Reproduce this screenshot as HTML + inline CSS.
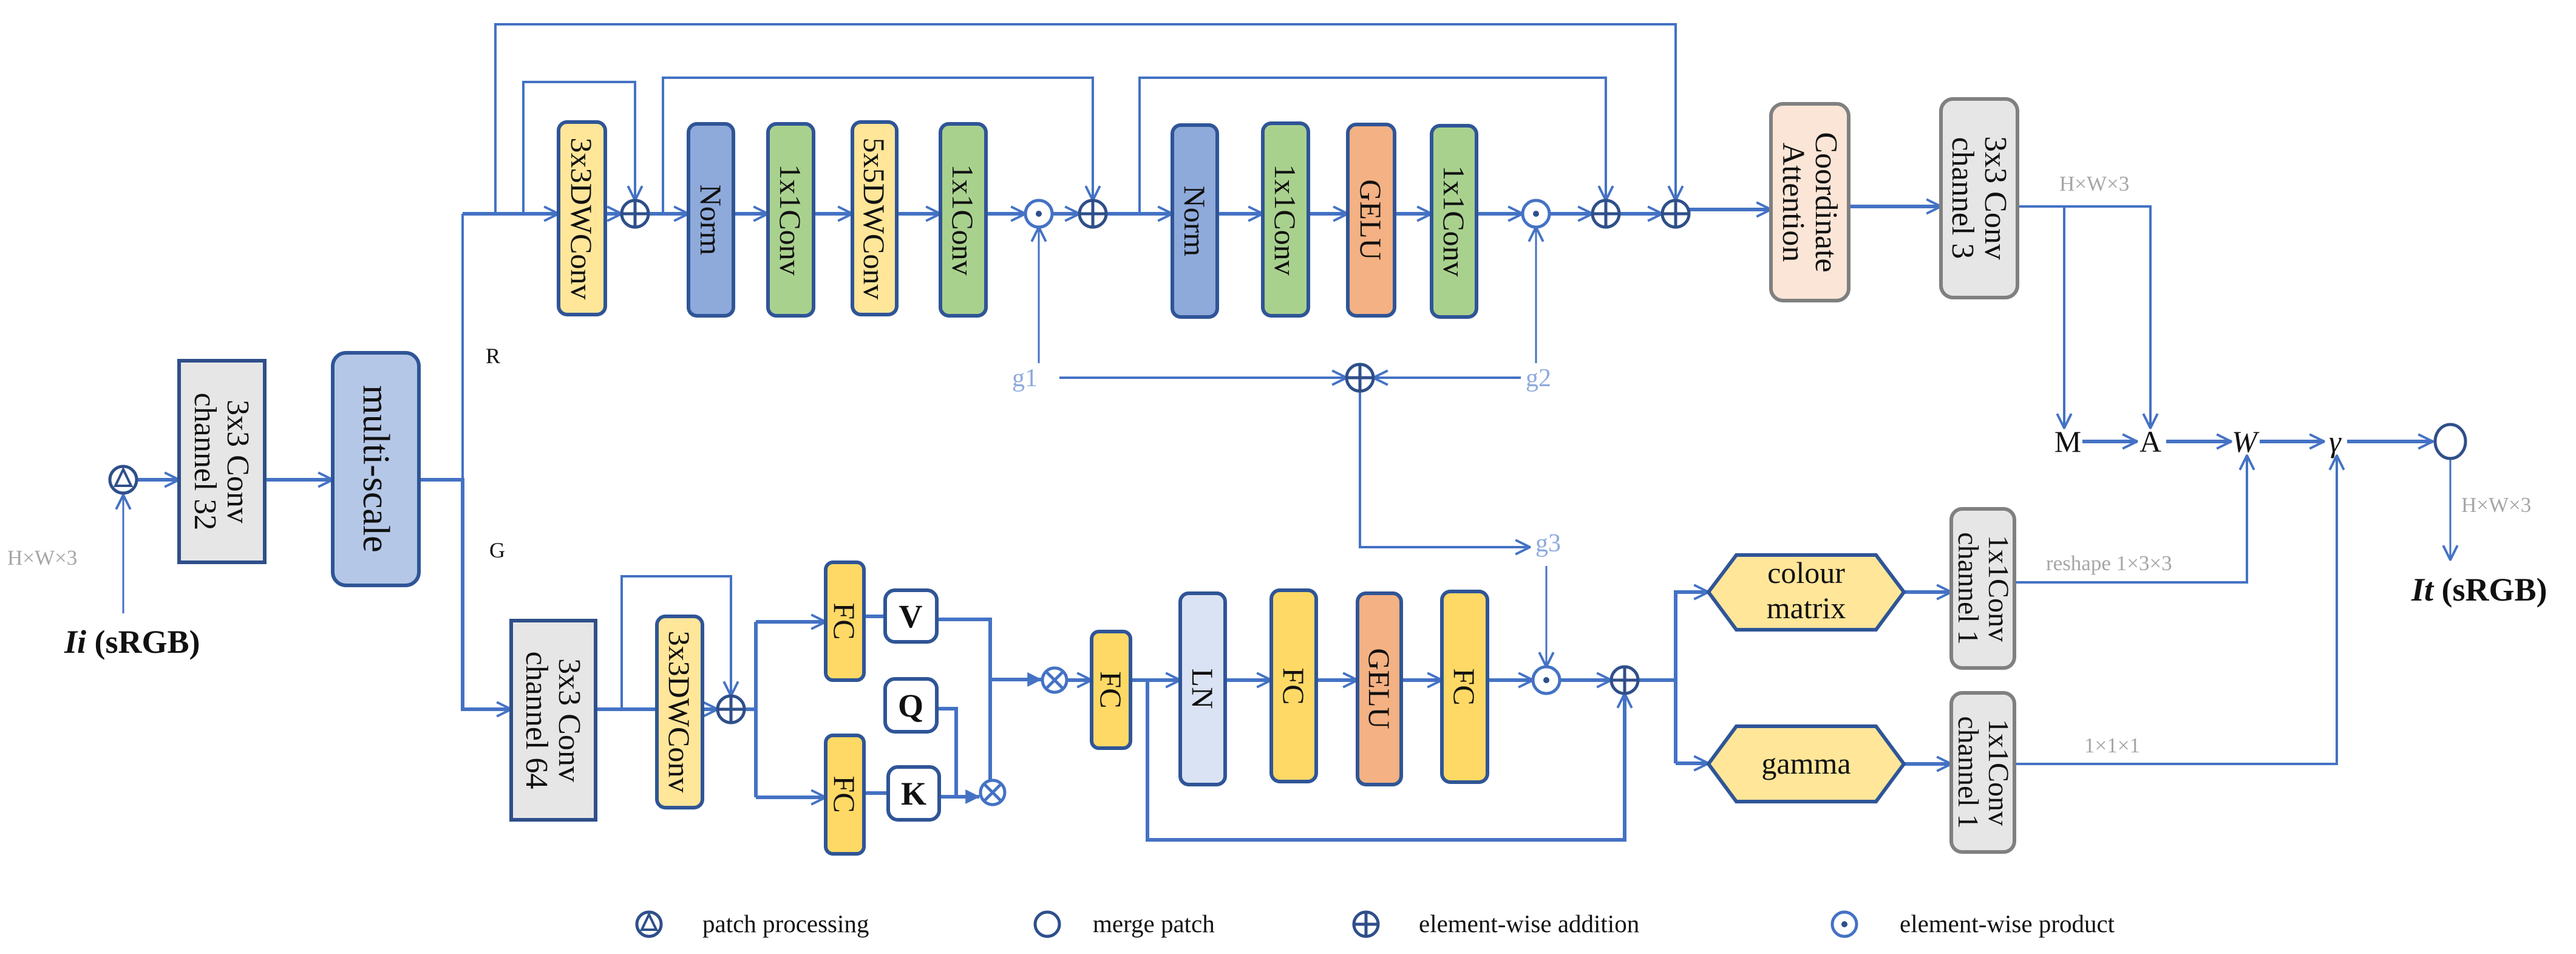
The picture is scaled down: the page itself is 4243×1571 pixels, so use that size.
<!DOCTYPE html>
<html><head><meta charset="utf-8"><style>
html,body{margin:0;padding:0;background:#fff;}
svg{display:block;}
svg text{font-family:"Liberation Serif","Times New Roman",serif;fill:#111;}
</style></head><body>
<svg width="4243" height="1571" viewBox="0 0 4243 1571" xmlns="http://www.w3.org/2000/svg" font-family="Liberation Serif, Times New Roman, serif">
<defs>
<marker id="a" viewBox="0 0 10 10" refX="9.5" refY="5" markerWidth="28" markerHeight="34" markerUnits="userSpaceOnUse" orient="auto">
<path d="M1,0.8 L9.5,5 L1,9.2" fill="none" stroke="#4472c4" stroke-width="1.4"/></marker>
<marker id="t" viewBox="0 0 10 10" refX="9.5" refY="5" markerWidth="24" markerHeight="26" markerUnits="userSpaceOnUse" orient="auto">
<path d="M0,0 L10,5 L0,10 Z" fill="#4472c4"/></marker>
</defs>
<g fill="none" stroke="#4472c4" stroke-width="6">
<path d="M762,352 H920" marker-end="url(#a)"/>
<path d="M997,352 H1024" marker-end="url(#a)"/>
<path d="M1068,352 H1134" marker-end="url(#a)"/>
<path d="M1208,352 H1265" marker-end="url(#a)"/>
<path d="M1340,352 H1404" marker-end="url(#a)"/>
<path d="M1477,352 H1549" marker-end="url(#a)"/>
<path d="M1624,352 H1689" marker-end="url(#a)"/>
<path d="M1733,352 H1778" marker-end="url(#a)"/>
<path d="M1822,352 H1931" marker-end="url(#a)"/>
<path d="M2005,352 H2080" marker-end="url(#a)"/>
<path d="M2155,352 H2220" marker-end="url(#a)"/>
<path d="M2297,352 H2358" marker-end="url(#a)"/>
<path d="M2432,352 H2508" marker-end="url(#a)"/>
<path d="M2552,352 H2623" marker-end="url(#a)"/>
<path d="M2667,352 H2738" marker-end="url(#a)"/>
<path d="M2782,345 H2917" marker-end="url(#a)"/>
<path d="M3045,340 H3197" marker-end="url(#a)"/>
<path d="M3323,340 H3542 V705" stroke-width="4" marker-end="url(#a)"/>
<path d="M3400,340 V705" stroke-width="4" marker-end="url(#a)"/>
<path d="M816,352 V40 H2760 V330" stroke-width="4" marker-end="url(#a)"/>
<path d="M862,352 V135 H1046 V330" stroke-width="4" marker-end="url(#a)"/>
<path d="M1092,352 V128 H1800 V330" stroke-width="4" marker-end="url(#a)"/>
<path d="M1877,352 V128 H2645 V330" stroke-width="4" marker-end="url(#a)"/>
<path d="M690,790 H762 V1168 H842" marker-end="url(#a)"/>
<path d="M762,352 V790" stroke-width="4"/>
<path d="M1711,598 V374" stroke-width="3" marker-end="url(#a)"/>
<path d="M1745,622 H2218" stroke-width="4" marker-end="url(#a)"/>
<path d="M2505,622 H2262" stroke-width="4" marker-end="url(#a)"/>
<path d="M2530,598 V374" stroke-width="3" marker-end="url(#a)"/>
<path d="M2240,644 V901 H2520" stroke-width="4" marker-end="url(#a)"/>
<path d="M2547,932 V1098" stroke-width="3" marker-end="url(#a)"/>
<path d="M3430,727 H3520" marker-end="url(#a)"/>
<path d="M3568,727 H3675" marker-end="url(#a)"/>
<path d="M3722,727 H3828" marker-end="url(#a)"/>
<path d="M3866,727 H4007" marker-end="url(#a)"/>
<path d="M4036,756 V922" stroke-width="3" marker-end="url(#a)"/>
<path d="M3318,959 H3701 V750" stroke-width="4" marker-end="url(#a)"/>
<path d="M3318,1258 H3849 V750" stroke-width="4" marker-end="url(#a)"/>
<path d="M203,1010 V815" stroke-width="3" marker-end="url(#a)"/>
<path d="M225,790 H295" marker-end="url(#a)"/>
<path d="M436,790 H548" marker-end="url(#a)"/>
<path d="M981,1168 H1082"/>
<path d="M1157,1168 H1182" marker-end="url(#a)"/>
<path d="M1024,1168 V949 H1204 V1146" stroke-width="4" marker-end="url(#a)"/>
<path d="M1226,1168 H1245"/>
<path d="M1245,1024 V1313"/>
<path d="M1245,1024 H1360" marker-end="url(#a)"/>
<path d="M1245,1313 H1360" marker-end="url(#a)"/>
<path d="M1423,1015 H1458"/>
<path d="M1423,1306 H1463"/>
<path d="M1543,1020 H1631 V1285"/>
<path d="M1631,1119 H1715" marker-end="url(#t)"/>
<path d="M1545,1167 H1575 V1312"/>
<path d="M1547,1312 H1613" marker-end="url(#t)"/>
<path d="M1757,1120 H1798" marker-end="url(#a)"/>
<path d="M1862,1120 H1944" marker-end="url(#a)"/>
<path d="M1890,1120 V1383 H2676 V1142" marker-end="url(#a)"/>
<path d="M2018,1120 H2094" marker-end="url(#a)"/>
<path d="M2168,1120 H2236" marker-end="url(#a)"/>
<path d="M2308,1120 H2375" marker-end="url(#a)"/>
<path d="M2450,1120 H2525" marker-end="url(#a)"/>
<path d="M2569,1120 H2654" marker-end="url(#a)"/>
<path d="M2698,1120 H2760"/>
<path d="M2760,972 V1257"/>
<path d="M2760,975 H2814" marker-end="url(#a)"/>
<path d="M2760,1257 H2814" marker-end="url(#a)"/>
<path d="M3136,975 H3214" marker-end="url(#a)"/>
<path d="M3136,1258 H3214" marker-end="url(#a)"/>
</g>

<g stroke-width="6">
<rect x="295" y="594" width="141" height="332" fill="#e7e6e6" stroke="#2f4f8a"/>
<rect x="548" y="581" width="142" height="383" rx="22" fill="#b4c7e7" stroke="#2f5597"/>
<rect x="920" y="201" width="77" height="317" rx="14" fill="#ffe699" stroke="#2f5597"/>
<rect x="1134" y="204" width="74" height="316" rx="14" fill="#8eaadb" stroke="#2f5597"/>
<rect x="1265" y="204" width="75" height="316" rx="14" fill="#a9d18e" stroke="#2f5597"/>
<rect x="1404" y="201" width="73" height="317" rx="14" fill="#ffe699" stroke="#2f5597"/>
<rect x="1549" y="204" width="75" height="316" rx="14" fill="#a9d18e" stroke="#2f5597"/>
<rect x="1931" y="206" width="74" height="316" rx="14" fill="#8eaadb" stroke="#2f5597"/>
<rect x="2080" y="203" width="75" height="317" rx="14" fill="#a9d18e" stroke="#2f5597"/>
<rect x="2220" y="205" width="77" height="315" rx="14" fill="#f4b183" stroke="#2f5597"/>
<rect x="2358" y="207" width="74" height="315" rx="14" fill="#a9d18e" stroke="#2f5597"/>
<rect x="2917" y="171" width="128" height="324" rx="20" fill="#fbe5d6" stroke="#808080"/>
<rect x="3197" y="163" width="126" height="327" rx="20" fill="#e6e6e6" stroke="#808080"/>
<rect x="842" y="1022" width="139" height="328" fill="#e7e6e6" stroke="#2f4f8a"/>
<rect x="1082" y="1015" width="75" height="315" rx="14" fill="#ffe699" stroke="#2f5597"/>
<rect x="1360" y="926" width="63" height="194" rx="12" fill="#ffd966" stroke="#2f5597"/>
<rect x="1360" y="1211" width="63" height="195" rx="12" fill="#ffd966" stroke="#2f5597"/>
<rect x="1458" y="972" width="85" height="85" rx="16" fill="#fff" stroke="#2f5597"/>
<rect x="1458" y="1118" width="85" height="87" rx="16" fill="#fff" stroke="#2f5597"/>
<rect x="1463" y="1263" width="84" height="87" rx="16" fill="#fff" stroke="#2f5597"/>
<rect x="1798" y="1040" width="64" height="192" rx="12" fill="#ffd966" stroke="#2f5597"/>
<rect x="1944" y="977" width="74" height="315" rx="14" fill="#dae3f3" stroke="#2f5597"/>
<rect x="2094" y="972" width="74" height="315" rx="14" fill="#ffd966" stroke="#2f5597"/>
<rect x="2236" y="977" width="72" height="315" rx="14" fill="#f4b183" stroke="#2f5597"/>
<rect x="2375" y="974" width="75" height="314" rx="14" fill="#ffd966" stroke="#2f5597"/>
<polygon points="2814,975 2860,914 3090,914 3136,975 3090,1037 2860,1037" fill="#ffe699" stroke="#2f5597"/>
<polygon points="2814,1258 2860,1196 3090,1196 3136,1258 3090,1320 2860,1320" fill="#ffe699" stroke="#2f5597"/>
<rect x="3214" y="838" width="104" height="262" rx="18" fill="#e6e6e6" stroke="#808080"/>
<rect x="3214" y="1141" width="104" height="262" rx="18" fill="#e6e6e6" stroke="#808080"/>
</g>

<g fill="#fff" stroke="#2f4f8a" stroke-width="5">
<circle cx="1046" cy="352" r="22"/><path d="M1046,330 V374 M1024,352 H1068"/>
<circle cx="1800" cy="352" r="22"/><path d="M1800,330 V374 M1778,352 H1822"/>
<circle cx="2645" cy="352" r="22"/><path d="M2645,330 V374 M2623,352 H2667"/>
<circle cx="2760" cy="352" r="22"/><path d="M2760,330 V374 M2738,352 H2782"/>
<circle cx="2240" cy="622" r="22"/><path d="M2240,600 V644 M2218,622 H2262"/>
<circle cx="1204" cy="1168" r="22"/><path d="M1204,1146 V1190 M1182,1168 H1226"/>
<circle cx="2676" cy="1120" r="22"/><path d="M2676,1098 V1142 M2654,1120 H2698"/>
</g>
<g fill="#fff" stroke="#4472c4" stroke-width="5">
<circle cx="1711" cy="352" r="22"/><circle cx="2530" cy="352" r="22"/><circle cx="2547" cy="1120" r="22"/>
<circle cx="1737" cy="1120" r="20"/><circle cx="1635" cy="1305" r="20"/>
<path d="M1723,1106 L1751,1134 M1751,1106 L1723,1134 M1621,1291 L1649,1319 M1649,1291 L1621,1319"/>
</g>
<g fill="#2f4f8a"><circle cx="1711" cy="352" r="5"/><circle cx="2530" cy="352" r="5"/><circle cx="2547" cy="1120" r="5"/></g>
<ellipse cx="4036" cy="727" rx="25" ry="28" fill="#fff" stroke="#2f4f8a" stroke-width="5"/>
<circle cx="203" cy="790" r="22" fill="#fff" stroke="#2f4f8a" stroke-width="5"/>
<path d="M203,773 L190,800 H216 Z" fill="none" stroke="#2f4f8a" stroke-width="4"/>

<g font-size="50">
<text transform="translate(958,360) rotate(90)" text-anchor="middle" dy="17">3x3DWConv</text>
<text transform="translate(1171,362) rotate(90)" text-anchor="middle" dy="17">Norm</text>
<text transform="translate(1302,362) rotate(90)" text-anchor="middle" dy="17">1x1Conv</text>
<text transform="translate(1440,360) rotate(90)" text-anchor="middle" dy="17">5x5DWConv</text>
<text transform="translate(1586,362) rotate(90)" text-anchor="middle" dy="17">1x1Conv</text>
<text transform="translate(1968,364) rotate(90)" text-anchor="middle" dy="17">Norm</text>
<text transform="translate(2117,362) rotate(90)" text-anchor="middle" dy="17">1x1Conv</text>
<text transform="translate(2258,362) rotate(90)" text-anchor="middle" dy="17">GELU</text>
<text transform="translate(2395,364) rotate(90)" text-anchor="middle" dy="17">1x1Conv</text>
<text transform="translate(2981,333) rotate(90)" text-anchor="middle" font-size="52"><tspan x="0" dy="-10">Coordinate</tspan><tspan x="0" dy="54">Attention</tspan></text>
<text transform="translate(3260,326) rotate(90)" text-anchor="middle" font-size="52"><tspan x="0" dy="-10">3x3 Conv</tspan><tspan x="0" dy="54">channel 3</tspan></text>
<text transform="translate(365,760) rotate(90)" text-anchor="middle" font-size="52"><tspan x="0" dy="-10">3x3 Conv</tspan><tspan x="0" dy="54">channel 32</tspan></text>
<text transform="translate(619,772) rotate(90)" text-anchor="middle" font-size="62" dy="20">multi-scale</text>
<text transform="translate(911,1186) rotate(90)" text-anchor="middle" font-size="52"><tspan x="0" dy="-10">3x3 Conv</tspan><tspan x="0" dy="54">channel 64</tspan></text>
<text transform="translate(1119,1172) rotate(90)" text-anchor="middle" dy="17">3x3DWConv</text>
<text transform="translate(1391,1023) rotate(90)" text-anchor="middle" dy="17">FC</text>
<text transform="translate(1391,1308) rotate(90)" text-anchor="middle" dy="17">FC</text>
<text transform="translate(1830,1136) rotate(90)" text-anchor="middle" dy="17">FC</text>
<text transform="translate(1981,1134) rotate(90)" text-anchor="middle" dy="17">LN</text>
<text transform="translate(2131,1130) rotate(90)" text-anchor="middle" dy="17">FC</text>
<text transform="translate(2272,1134) rotate(90)" text-anchor="middle" dy="17">GELU</text>
<text transform="translate(2412,1131) rotate(90)" text-anchor="middle" dy="17">FC</text>
<text transform="translate(3266,969) rotate(90)" text-anchor="middle" font-size="48"><tspan x="0" dy="-10">1x1Conv</tspan><tspan x="0" dy="50">channel 1</tspan></text>
<text transform="translate(3266,1272) rotate(90)" text-anchor="middle" font-size="48"><tspan x="0" dy="-10">1x1Conv</tspan><tspan x="0" dy="50">channel 1</tspan></text>
</g>

<g font-size="54" font-weight="bold" text-anchor="middle">
<text x="1500" y="1033">V</text><text x="1500" y="1180">Q</text><text x="1505" y="1325">K</text>
</g>
<g font-size="50" text-anchor="middle">
<text x="2975" y="960">colour</text><text x="2975" y="1018">matrix</text>
<text x="2975" y="1274">gamma</text>
<text x="3406" y="744">M</text><text x="3542" y="744">A</text>
<text x="3697" y="744" font-style="italic">W</text><text x="3846" y="744" font-style="italic">γ</text>
</g>
<text x="800" y="598" font-size="36">R</text>
<text x="806" y="918" font-size="36">G</text>
<g font-size="42" text-anchor="middle">
<text x="1688" y="636" style="fill:#8faadc">g1</text>
<text x="2534" y="636" style="fill:#8faadc">g2</text>
<text x="2550" y="908" style="fill:#8faadc">g3</text>
</g>
<g font-size="35">
<text x="12" y="930" style="fill:#a6a6a6">H×W×3</text>
<text x="3392" y="314" style="fill:#a6a6a6">H×W×3</text>
<text x="4054" y="843" style="fill:#a6a6a6">H×W×3</text>
<text x="3370" y="939" style="fill:#a6a6a6">reshape 1×3×3</text>
<text x="3433" y="1239" style="fill:#a6a6a6">1×1×1</text>
</g>
<text x="106" y="1075" font-size="54" font-weight="bold"><tspan font-style="italic">Ii</tspan> (sRGB)</text>
<text x="3972" y="989" font-size="54" font-weight="bold"><tspan font-style="italic">It</tspan> (sRGB)</text>

<g stroke-width="5" fill="#fff">
<circle cx="1069" cy="1522" r="20" stroke="#2f4f8a"/>
<path d="M1069,1506 L1057,1531 H1081 Z" fill="none" stroke="#2f4f8a" stroke-width="4"/>
<circle cx="1725" cy="1522" r="20" stroke="#2f4f8a"/>
<circle cx="2250" cy="1522" r="20" stroke="#2f4f8a"/>
<path d="M2250,1502 V1542 M2230,1522 H2270" stroke="#2f4f8a"/>
<circle cx="3038" cy="1522" r="20" stroke="#4472c4"/>
</g>
<circle cx="3038" cy="1522" r="5" fill="#2f4f8a"/>
<g font-size="41">
<text x="1157" y="1535">patch processing</text>
<text x="1800" y="1535">merge patch</text>
<text x="2337" y="1535">element-wise addition</text>
<text x="3129" y="1535">element-wise product</text>
</g>
</svg>
</body></html>
